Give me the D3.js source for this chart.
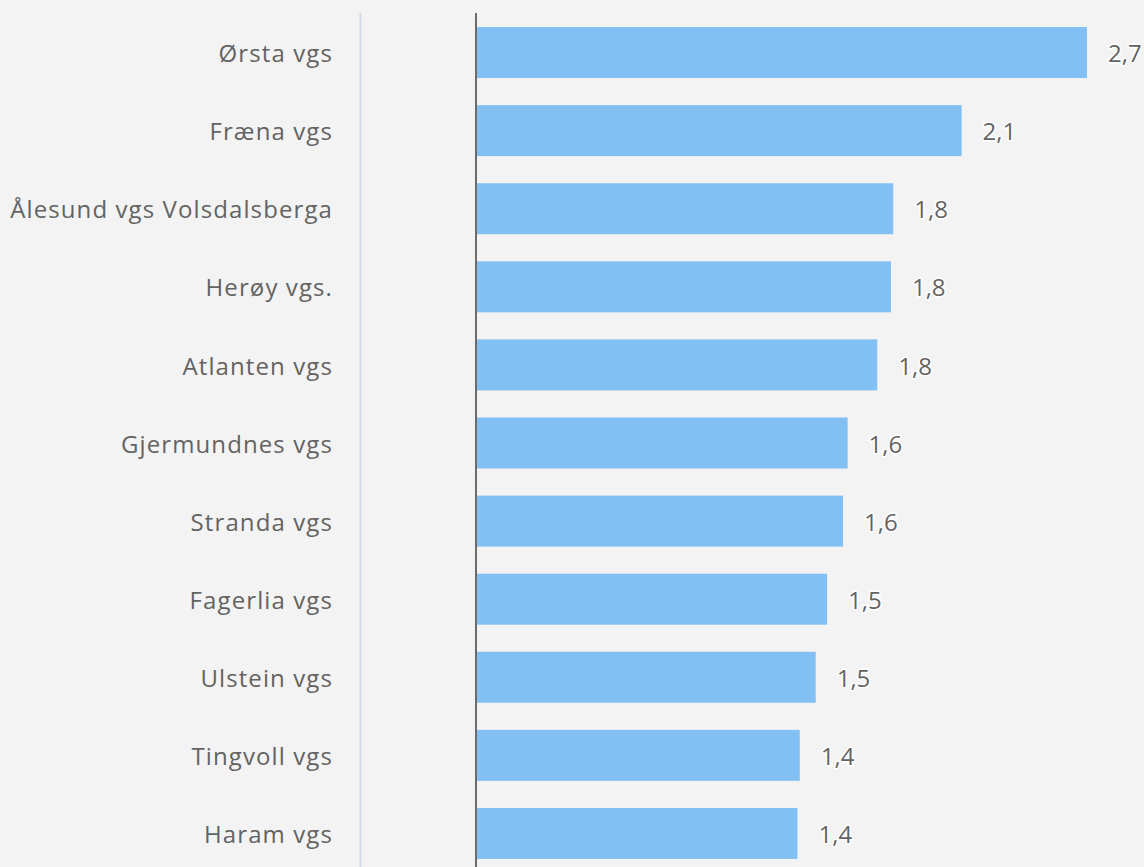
<!DOCTYPE html>
<html>
<head>
<meta charset="utf-8">
<script src="https://cdn.jsdelivr.net/npm/d3@7"></script>
<style>
  body { margin: 0; background: #f3f3f3; }
  svg { display: block; }
  text { font-family: "Open Sans", Lato, sans-serif; fill: #636363; }
</style>
</head>
<body>
<div id="chart"></div>
<script>
// School names (top to bottom) and their values
const schools = ["Ørsta vgs", "Fræna vgs", "Ålesund vgs Volsdalsberga", "Herøy vgs.",
  "Atlanten vgs", "Gjermundnes vgs", "Stranda vgs", "Fagerlia vgs",
  "Ulstein vgs", "Tingvoll vgs", "Haram vgs"];
const values = [2.68, 2.13, 1.83, 1.82, 1.76, 1.63, 1.61, 1.54, 1.49, 1.42, 1.41];

const width = 1144,
    height = 867;

const data = schools.map((s, i) => ({school: s, value: values[i]}));

const svg = d3.select("#chart")
  .append("svg")
    .attr("width", width)
    .attr("height", height);

// scales
const x = d3.scaleLinear()
  .domain([0, 2.93])
  .range([476, width]);

const y = d3.scaleBand()
  .domain(schools)
  .range([13.5, 872.5])
  .paddingInner(0.347)
  .paddingOuter(0.1735);

// light separator line left of the axis
svg.append("line")
  .attr("x1", 360.5).attr("x2", 360.5)
  .attr("y1", 13).attr("y2", height)
  .attr("stroke", "#d3dbe8")
  .attr("stroke-width", 2);

// bars
svg.append("g")
  .selectAll("rect")
  .data(data)
  .join("rect")
    .attr("x", x(0))
    .attr("y", d => y(d.school))
    .attr("width", d => x(d.value) - x(0))
    .attr("height", y.bandwidth())
    .attr("fill", "#82bff3");

// y axis line
svg.append("line")
  .attr("x1", x(0)).attr("x2", x(0))
  .attr("y1", 13).attr("y2", height)
  .attr("stroke", "#6b6b6b")
  .attr("stroke-width", 2);

// category labels
svg.append("g")
  .selectAll("text")
  .data(data)
  .join("text")
    .attr("x", 333)
    .attr("y", d => y(d.school) + y.bandwidth() / 2)
    .attr("dy", "0.4em")
    .attr("text-anchor", "end")
    .style("font-size", "24px")
    .style("letter-spacing", "1.1px")
    .text(d => d.school);

// value labels with white halo
const fmt = v => v.toFixed(1).replace(".", ",");
svg.append("g")
  .selectAll("text")
  .data(data)
  .join("text")
    .attr("x", d => x(d.value) + 21)
    .attr("y", d => y(d.school) + y.bandwidth() / 2)
    .attr("dy", "0.4em")
    .style("font-size", "24px")
    .style("stroke", "#ffffff")
    .style("stroke-width", 3)
    .style("paint-order", "stroke")
    .style("stroke-linejoin", "round")
    .text(d => fmt(d.value));
</script>
</body>
</html>
